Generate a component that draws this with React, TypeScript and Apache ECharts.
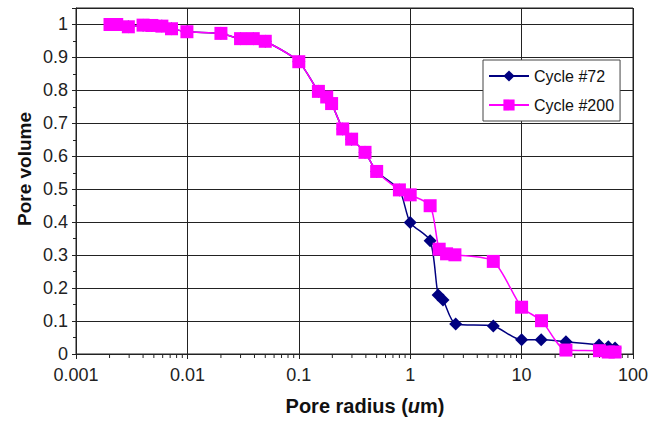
import React, { useEffect, useRef } from "react";
import * as echarts from "echarts";

const xTickLabels = ["0.001", "0.01", "0.1", "1", "10", "100"];
const yTickLabels = ["0", "0.1", "0.2", "0.3", "0.4", "0.5", "0.6", "0.7", "0.8", "0.9", "1"];

const cycle200X = [0.00202, 0.00232, 0.00295, 0.004, 0.0048, 0.0059, 0.0072, 0.0099, 0.02, 0.03, 0.039, 0.05,
  0.1, 0.15, 0.178, 0.197, 0.248, 0.298, 0.393, 0.5, 0.8, 1.0, 1.51,
  1.82, 2.12, 2.52, 5.57, 10, 15.1, 25, 50, 60, 69];
const cycle200Y = [1.0, 1.0, 0.993, 0.998, 0.997, 0.995, 0.987, 0.978, 0.973, 0.957, 0.957, 0.949,
  0.887, 0.797, 0.78, 0.76, 0.683, 0.652, 0.612, 0.554, 0.498, 0.483, 0.45,
  0.318, 0.304, 0.301, 0.281, 0.142, 0.101, 0.012, 0.01, 0.006, 0.006];

const cycle72X = [0.00202, 0.00232, 0.00295, 0.004, 0.0048, 0.0059, 0.0072, 0.0099, 0.02, 0.03, 0.039, 0.05,
  0.1, 0.15, 0.178, 0.197, 0.248, 0.298, 0.393, 0.5, 0.8,
  1.0, 1.51, 1.78, 1.97, 2.56, 5.57, 10, 15, 25, 49.6, 60, 69];
const cycle72Y = [1.0, 1.0, 0.993, 0.998, 0.997, 0.995, 0.987, 0.978, 0.973, 0.957, 0.957, 0.949,
  0.887, 0.797, 0.78, 0.76, 0.683, 0.652, 0.612, 0.554, 0.498,
  0.399, 0.344, 0.179, 0.164, 0.091, 0.085, 0.043, 0.043, 0.037, 0.027, 0.022, 0.018];

const decades = [0.001, 0.01, 0.1, 1, 10];
const minorMultipliers = [2, 3, 4, 5, 6, 7, 8, 9];

const FONT = "'Liberation Sans', Arial, sans-serif";

export default function App() {
  const ref = useRef<HTMLDivElement>(null);
  useEffect(() => {
    if (!ref.current) return;
    const chart = echarts.init(ref.current, null, { renderer: "svg" });
    const minorData: number[][] = [];
    decades.forEach((d) => minorMultipliers.forEach((m) => minorData.push([d * m, 0])));
    const labelMap: Record<string, string> = {};
    xTickLabels.forEach((l) => (labelMap[String(Math.round(Math.log10(parseFloat(l))))] = l));

    chart.setOption({
      animation: false,
      backgroundColor: "#fff",
      grid: { left: 76, right: 29, top: 8, bottom: 67, show: true, borderColor: "#222", borderWidth: 1 },
      legend: {
        orient: "vertical",
        left: 483,
        top: 60,
        data: ["Cycle #72", "Cycle #200"],
        backgroundColor: "#fff",
        borderColor: "#444",
        borderWidth: 1,
        padding: [8, 6, 8, 5],
        itemGap: 13,
        itemWidth: 40,
        itemHeight: 14,
        textStyle: { fontFamily: FONT, fontSize: 16, color: "#111" },
      },
      xAxis: {
        type: "log",
        logBase: 10,
        min: 0.001,
        max: 100,
        axisLine: { lineStyle: { color: "#222", width: 1 } },
        axisTick: { show: true, inside: false, length: 5, lineStyle: { color: "#222" } },
        axisLabel: {
          fontFamily: FONT,
          fontSize: 18,
          color: "#222",
          margin: 12,
          formatter: (v: number) => labelMap[String(Math.round(Math.log10(v)))] ?? "",
        },
        splitLine: { show: true, lineStyle: { color: "#222", width: 1 } },
      },
      yAxis: {
        type: "value",
        min: 0,
        max: 1.05,
        interval: 0.1,
        axisLine: { show: true, lineStyle: { color: "#222", width: 1 } },
        axisTick: { show: true, length: 4, lineStyle: { color: "#222" } },
        minorTick: { show: true, splitNumber: 2, length: 3, lineStyle: { color: "#222" } },
        axisLabel: {
          fontFamily: FONT,
          fontSize: 18,
          color: "#222",
          margin: 8,
          formatter: (v: number) => {
            const i = Math.round(v * 10);
            return Math.abs(v * 10 - i) < 1e-6 && i <= 10 ? yTickLabels[i] : "";
          },
        },
        splitLine: { show: true, lineStyle: { color: "#222", width: 1 } },
      },
      graphic: [
        {
          type: "text",
          x: 24,
          y: 169,
          rotation: Math.PI / 2,
          style: {
            text: "Pore volume",
            font: `bold 19px ${FONT}`,
            fill: "#111",
            align: "center",
            verticalAlign: "middle",
          },
        },
        {
          type: "text",
          x: 365,
          y: 406,
          style: {
            text: "Pore radius ({i|u}m)",
            font: `bold 20px ${FONT}`,
            fontFamily: FONT,
            fontSize: 20,
            fontWeight: "bold",
            fill: "#111",
            align: "center",
            verticalAlign: "middle",
            rich: {
              i: { fontStyle: "italic", fontWeight: "bold", fontSize: 20, fontFamily: FONT, fill: "#111" },
            },
          },
        },
      ],
      series: [
        {
          type: "custom",
          silent: true,
          clip: false,
          z: 1,
          data: minorData,
          encode: { x: 0, y: 1 },
          renderItem: (params: any, api: any) => {
            const p = api.coord([api.value(0), 0]);
            return {
              type: "line",
              shape: { x1: p[0], y1: p[1], x2: p[0], y2: p[1] + 4 },
              style: { stroke: "#222", lineWidth: 1 },
            };
          },
        },
        {
          name: "Cycle #72",
          type: "line",
          data: cycle72X.map((x, i) => [x, cycle72Y[i]]),
          symbol: "diamond",
          symbolSize: 13,
          smooth: 0.25,
          color: "#000080",
          lineStyle: { color: "#000080", width: 1.5 },
          itemStyle: { color: "#000080" },
          z: 3,
        },
        {
          name: "Cycle #200",
          type: "line",
          data: cycle200X.map((x, i) => [x, cycle200Y[i]]),
          symbol: "rect",
          symbolSize: 13,
          smooth: 0.25,
          color: "#ff00ff",
          lineStyle: { color: "#ff00ff", width: 1.5 },
          itemStyle: { color: "#ff00ff" },
          z: 4,
        },
      ],
    });
    return () => chart.dispose();
  }, []);
  return (
    <div
      ref={ref}
      style={{ position: "fixed", left: 0, top: 0, width: 662, height: 421, background: "#fff" }}
    />
  );
}
